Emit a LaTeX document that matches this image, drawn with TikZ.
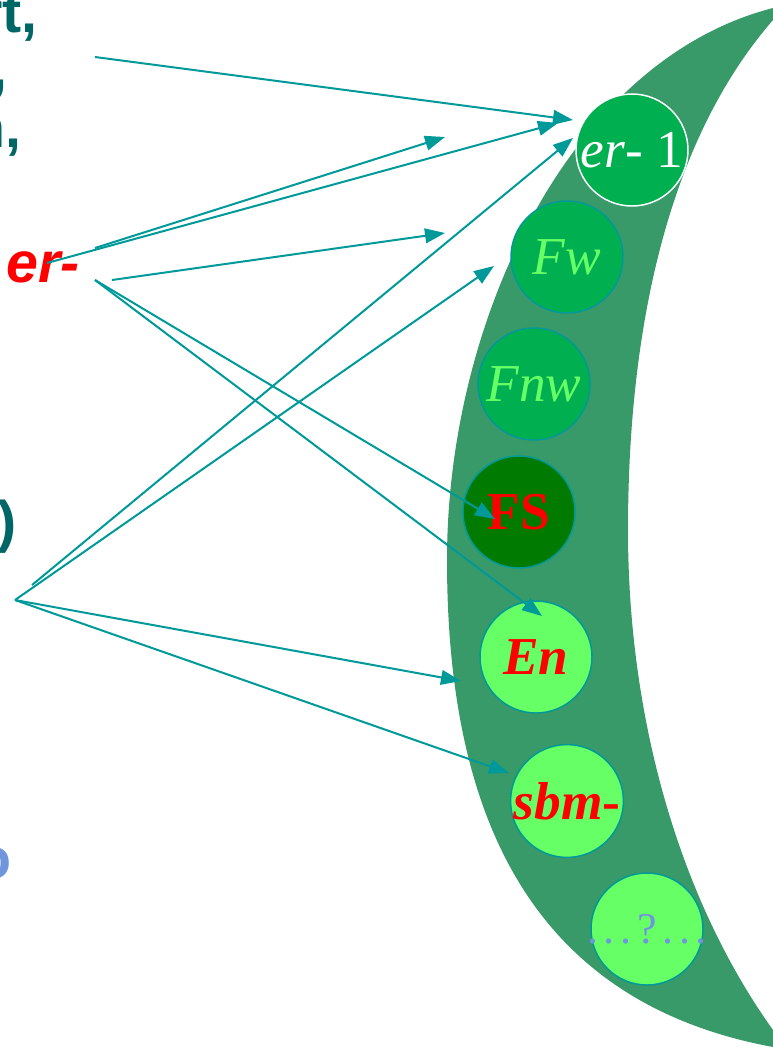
\documentclass[tikz,border=0pt]{standalone}
\usepackage{fontspec}
\setmainfont{Liberation Serif}
\newfontfamily\MoonSansFont{Liberation Sans}
\usepackage{tikz}
\usetikzlibrary{arrows.meta}
\usetikzlibrary{positioning}
\definecolor{moonfill}{HTML}{389A69}
\definecolor{ballgreen}{HTML}{00B050}
\definecolor{balldark}{HTML}{007A00}
\definecolor{balllight}{HTML}{66FF66}
\definecolor{ballrim}{HTML}{009999}
\definecolor{linkcolor}{HTML}{009999}
\definecolor{sideteal}{HTML}{006666}
\definecolor{sideblue}{HTML}{6F96DC}
\newcommand{\MoonBallFont}{\fontsize{40pt}{44pt}\selectfont}
\newcommand{\MoonSideFont}{\MoonSansFont\fontsize{43pt}{48pt}\selectfont\bfseries}
\newcommand{\MoonDot}{.\kern4.3pt}
\tikzset{
  ball/.style={
    circle, draw=ballrim, line width=1.1pt, inner sep=0pt,
    minimum size=84pt, font=\MoonBallFont
  },
  sidetext/.style={
    inner sep=0pt, font=\MoonSideFont, text=sideteal
  },
  link/.style={
    draw=linkcolor, line width=1.5pt,
    -{Triangle[length=15pt, width=11pt]}
  }
}

\begin{document}
\begin{tikzpicture}[x=0.75pt, y=-0.75pt]
  \useasboundingbox (0,0) rectangle (773,1047);
  % crescent
  \fill[moonfill] (773,8) .. controls (570,60) and (447,320) .. (447,560)
    .. controls (447,800) and (520,1000) .. (773,1047) -- (773,1030)
    .. controls (680,900) and (628,720) .. (628,530)
    .. controls (628,350) and (660,150) .. (773,20) -- cycle;

  % balls
  \node[ball, draw=white, fill=ballgreen, text=white] (erball) at (632,150) {\textit{er}- 1};
  \node[ball, fill=ballgreen, text=balllight] (fwball) at (567,257) {\textit{Fw}};
  \node[ball, fill=ballgreen, text=balllight] (fnwball) at (534,384) {\textit{Fnw}};
  \node[ball, fill=balldark, text=red] (fsball) at (519,512) {\textbf{FS}};
  \node[ball, fill=balllight, text=red] (enball) at (536,657) {\textbf{\textit{En}}};
  \node[ball, fill=balllight, text=red] (sbmball) at (567,801) {\textbf{\textit{sbm}-}};
  \node[ball, fill=balllight, text=sideblue, font=\fontsize{33pt}{36pt}\selectfont]
    (qball) at (647,929) {\makebox[0pt]{\MoonDot\MoonDot\MoonDot?\kern4.3pt\MoonDot\MoonDot.}};

  % cut-off text on the left
  \node[sidetext, anchor=base east] (lineA) at (38,32) {rt,};
  \node[sidetext, anchor=base east] (lineB) at (8,88) {,};
  \node[sidetext, anchor=base east] (lineC) at (22,147) {n,};
  \node[sidetext, anchor=base west, text=red] (erword) at (6,282) {\itshape er-};
  \node[sidetext, anchor=base east] (lineD) at (17,541) {)};
  \node[sidetext, anchor=base east, text=sideblue] (lineE) at (12,878) {o};

  % arrow ends
  \coordinate (fromTop) at (95,57);
  \coordinate (fromErA) at (47,263);
  \coordinate (fromErB) at (95,248);
  \coordinate (fromErC) at (112,280);
  \coordinate (fromErD) at (95,280);
  \coordinate (hubUp) at (32,585);
  \coordinate (hub) at (15,600);
  \coordinate (tipTop) at (573,120);
  \coordinate (tipErA) at (558,123);
  \coordinate (tipGapA) at (445,137);
  \coordinate (tipGapB) at (445,233);
  \coordinate (tipFs) at (495,519);
  \coordinate (tipEn) at (542,616);
  \coordinate (tipHubUp) at (573,138);
  \coordinate (tipFw) at (494,266);
  \coordinate (tipEdge) at (461,681);
  \coordinate (tipSbm) at (509,773);

  \draw[link] (fromTop) -- (tipTop);
  \draw[link] (fromErA) -- (tipErA);
  \draw[link] (fromErB) -- (tipGapA);
  \draw[link] (fromErC) -- (tipGapB);
  \draw[link] (fromErD) -- (tipFs);
  \draw[link] (fromErD) -- (tipEn);
  \draw[link] (hubUp) -- (tipHubUp);
  \draw[link] (hub) -- (tipFw);
  \draw[link] (hub) -- (tipEdge);
  \draw[link] (hub) -- (tipSbm);
\end{tikzpicture}
\end{document}
